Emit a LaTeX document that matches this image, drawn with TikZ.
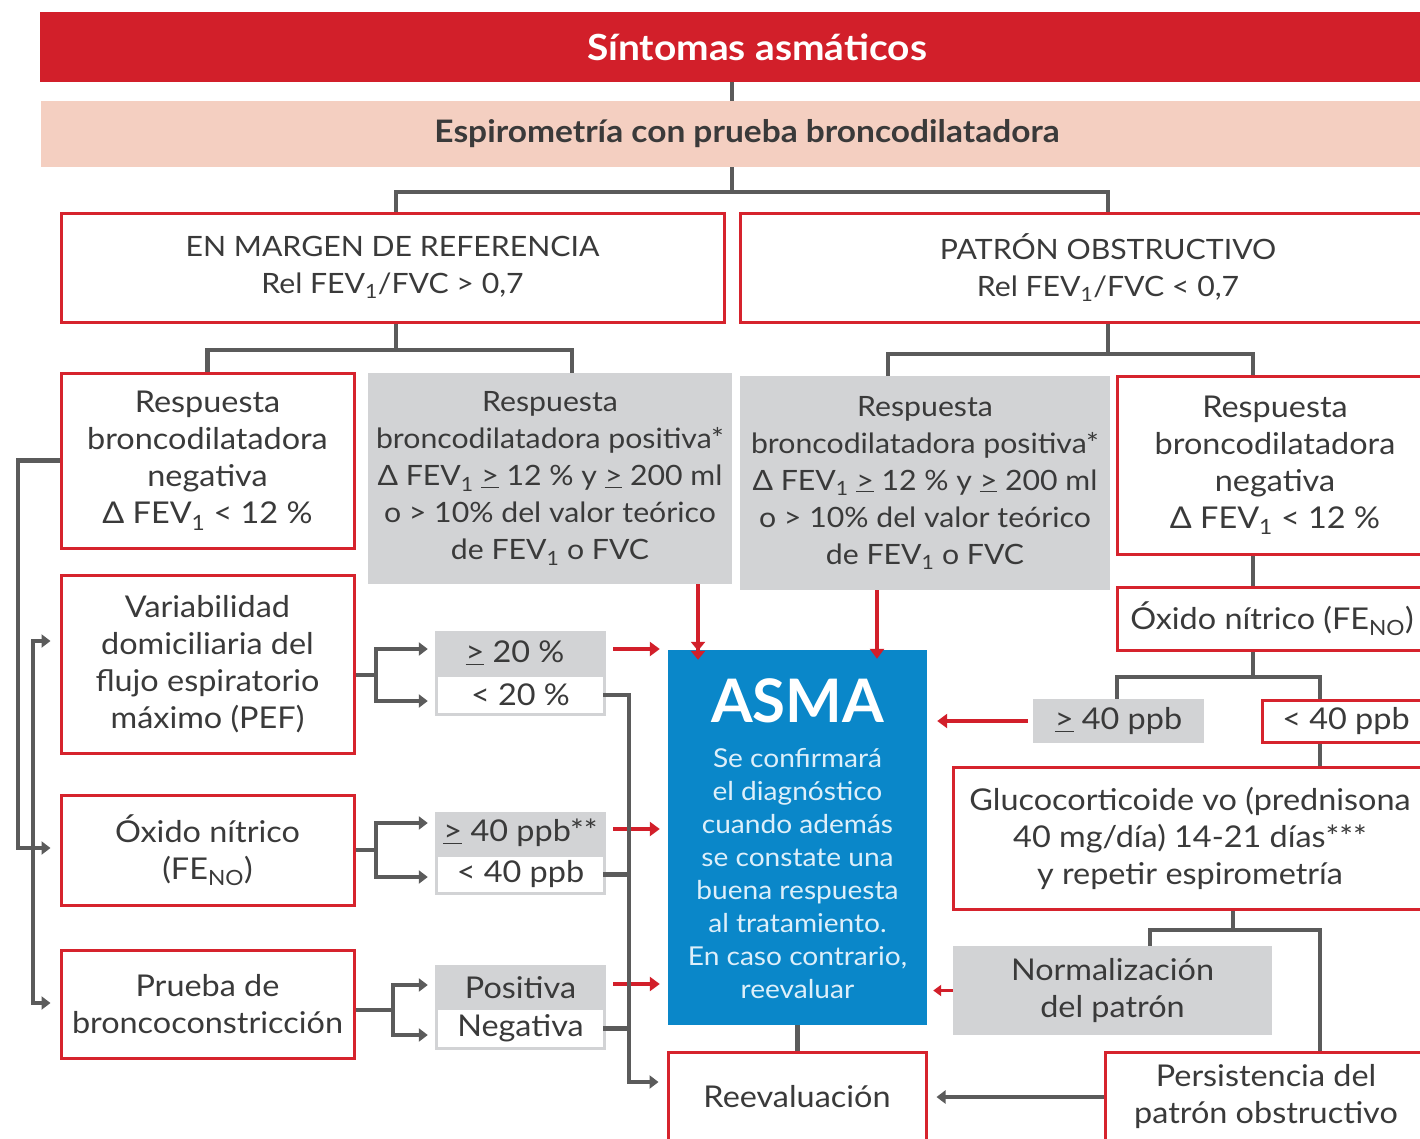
\documentclass[tikz,border=0pt]{standalone}
\usepackage{fontspec}
\setmainfont{Lato}[FakeStretch=1.08]
\newfontfamily\plainlato{Lato}
\usetikzlibrary{arrows.meta}
\definecolor{hred}{HTML}{D21F2A}
\definecolor{bred}{HTML}{D6232D}
\definecolor{salmon}{HTML}{F4CFC1}
\definecolor{gfill}{HTML}{D2D3D5}
\definecolor{lgray}{HTML}{5B5B5B}
\definecolor{ablue}{HTML}{0A87C9}
\definecolor{ink}{HTML}{3A3A3A}
\definecolor{lightt}{HTML}{DDEFFA}
\newcommand{\gequ}{\underline{>}}
\begin{document}
\begin{tikzpicture}[x=1pt,y=-1pt,
  txt/.style={font=\fontsize{30}{37}\selectfont, text=ink, align=center, inner sep=0pt},
  redbox/.style={txt, draw=bred, line width=3pt, fill=white},
  graybox/.style={txt, fill=gfill},
  whitebox/.style={txt, fill=white},
  smaller/.style={font=\fontsize{28}{37}\selectfont},
  conn/.style={draw=lgray, line width=4.5pt},
  arrG/.style={conn, -{Triangle[length=9pt,width=13pt]}},
  arrGG/.style={conn, {Triangle[length=9pt,width=13pt]}-{Triangle[length=9pt,width=13pt]}},
  arrR/.style={draw=hred, line width=4pt, -{Triangle[length=10pt,width=14pt]}},
  arrRR/.style={draw=hred, line width=4pt, -{Triangle[length=9pt,width=14pt]Triangle[length=9pt,width=14pt]}},
]
\useasboundingbox (0,0) rectangle (1420,1138);
\clip (0,0) rectangle (1420,1138);
\fill[white] (0,0) rectangle (1420,1138);

% header boxes
\node[fill=hred, minimum width=1434pt, minimum height=70pt, inner sep=0pt,
      font=\fontsize{36}{42}\selectfont\bfseries, text=white] (hdr) at (757,47) {Síntomas asmáticos};
\node[fill=salmon, minimum width=1412pt, minimum height=66pt, inner sep=0pt,
      font=\fontsize{31}{36}\selectfont\bfseries, text=ink] (sal) at (747,134) {Espirometría con prueba broncodilatadora};

% level 1
\node[redbox, smaller, minimum width=663pt, minimum height=109pt] (margen) at (392.5,267.5)
  {EN MARGEN DE REFERENCIA\\Rel FEV\textsubscript{1}/FVC > 0,7};
\node[redbox, smaller, minimum width=736pt, minimum height=109pt] (pat) at (1108,267.5)
  {PATRÓN OBSTRUCTIVO\\Rel FEV\textsubscript{1}/FVC < 0,7};

% level 2
\node[redbox, minimum width=293pt, minimum height=175pt] (negL) at (207.5,460.5)
  {Respuesta\\broncodilatadora\\negativa\\Δ FEV\textsubscript{1} < 12 \%};
\node[graybox, smaller, minimum width=364pt, minimum height=211pt] (posL) at (550,478.5)
  {Respuesta\\broncodilatadora positiva*\\Δ FEV\textsubscript{1} \gequ{} 12 \% y \gequ{} 200 ml\\o > 10\% del valor teórico\\de FEV\textsubscript{1} o FVC};
\node[graybox, smaller, minimum width=370pt, minimum height=214pt] (posR) at (925,483)
  {Respuesta\\broncodilatadora positiva*\\Δ FEV\textsubscript{1} \gequ{} 12 \% y \gequ{} 200 ml\\o > 10\% del valor teórico\\de FEV\textsubscript{1} o FVC};
\node[redbox, minimum width=316pt, minimum height=178pt] (negR) at (1275,465)
  {Respuesta\\broncodilatadora\\negativa\\Δ FEV\textsubscript{1} < 12 \%};

% left column
\node[redbox, minimum width=293pt, minimum height=178pt] (var) at (207.5,664)
  {Variabilidad\\domiciliaria del\\flujo espiratorio\\máximo (PEF)};
\node[redbox, minimum width=293pt, minimum height=110pt] (oxL) at (207.5,850)
  {Óxido nítrico\\(FE\textsubscript{NO})};
\node[redbox, minimum width=293pt, minimum height=108pt] (prueba) at (207.5,1004)
  {Prueba de\\broncoconstricción};

% small result boxes
\node[graybox, minimum width=171pt, minimum height=85pt] (g1) at (520.5,673.5) {};
\node[txt] (t1) at (515,653) {\gequ{} 20 \%};
\node[whitebox, minimum width=165pt, minimum height=36pt] (w1) at (520.5,695) {< 20 \%};
\node[graybox, minimum width=171pt, minimum height=83pt] (g2) at (520.5,853.5) {};
\node[txt] (t2) at (520.5,833) {\gequ{} 40 ppb**};
\node[whitebox, minimum width=165pt, minimum height=35pt] (w2) at (520.5,874.5) {< 40 ppb};
\node[graybox, minimum width=171pt, minimum height=85pt] (g3) at (520.5,1007.5) {};
\node[txt] (t3) at (520.5,988) {Positiva};
\node[whitebox, minimum width=165pt, minimum height=37pt] (w3) at (520.5,1028.5) {Negativa};

% ASMA
\node[fill=ablue, minimum width=259pt, minimum height=375pt, inner sep=0pt] (asma) at (797.5,837.5) {};
\node[font=\plainlato\fontsize{60}{66}\selectfont\bfseries, text=white, inner sep=0pt] (asmaT) at (797.5,701) {ASMA};
\node[font=\fontsize{26}{33}\selectfont, text=lightt, align=center, inner sep=0pt] (asmaB) at (797.5,873.5)
  {Se confirmará\\el diagnóstico\\cuando además\\se constate una\\buena respuesta\\al tratamiento.\\En caso contrario,\\reevaluar};
\node[redbox, minimum width=258pt, minimum height=90pt] (reev) at (797,1097) {Reevaluación};

% right column
\node[redbox, minimum width=310pt, minimum height=63pt] (oxR) at (1272,618.5) {Óxido nítrico (FE\textsubscript{NO})};
\node[graybox, minimum width=171pt, minimum height=44pt] (geR) at (1118.5,721) {\gequ{} 40 ppb};
\node[redbox, minimum width=168pt, minimum height=42pt] (ltR) at (1346,721) {< 40 ppb};
\node[redbox, minimum width=474pt, minimum height=142pt] (gluco) at (1190,838)
  {Glucocorticoide vo (prednisona\\40 mg/día) 14-21 días***\\y repetir espirometría};
\node[graybox, minimum width=319pt, minimum height=89pt] (norm) at (1112.5,990.5) {Normalización\\del patrón};
\node[redbox, minimum width=322pt, minimum height=90pt] (pers) at (1266,1097) {Persistencia del\\patrón obstructivo};

% connectors top
\draw[conn] (hdr.south -| 732,0) -- (sal.north -| 732,0);
\draw[conn] (sal.south -| 732,0) -- (732,192);
\draw[conn] (margen.north -| 396,0) -- (396,192) -- (1108,192) -- (pat.north);
\draw[conn] (margen.south -| 396,0) -- (396,350);
\draw[conn] (negL.north) -- (207.5,350) -- (572,350) -- (posL.north -| 572,0);
\draw[conn] (pat.south) -- (1108,354);
\draw[conn] (posR.north -| 888,0) -- (888,354) -- (1253,354) -- (negR.north -| 1253,0);

% left loops
\draw[arrG] (negL.west) -- (18,460.5) -- (18,848) -- ([xshift=-9pt]oxL.west |- 0,848);
\draw[arrGG] ([xshift=-9pt]var.west |- 0,641) -- (33,641) -- (33,1003) -- ([xshift=-9pt]prueba.west |- 0,1003);

% brackets
\draw[conn] (var.east |- 0,675) -- (376,675);
\draw[arrG] (376,675) |- ([xshift=-7pt]g1.west |- 0,649);
\draw[arrG] (376,675) |- ([xshift=-7pt]g1.west |- 0,701);
\draw[conn] (oxL.east) -- (376,850);
\draw[arrG] (376,850) |- ([xshift=-7pt]g2.west |- 0,823);
\draw[arrG] (376,850) |- ([xshift=-7pt]g2.west |- 0,877);
\draw[conn] (prueba.east |- 0,1010) -- (393,1010);
\draw[arrG] (393,1010) |- ([xshift=-7pt]g3.west |- 0,985);
\draw[arrG] (393,1010) |- ([xshift=-7pt]g3.west |- 0,1035);

% red arrows to ASMA
\draw[arrR] ([xshift=7pt]g1.east |- 0,649) -- ([xshift=-8pt]asma.west |- 0,649);
\draw[arrR] ([xshift=7pt]g2.east |- 0,829) -- ([xshift=-8pt]asma.west |- 0,829);
\draw[arrR] ([xshift=7pt]g3.east |- 0,984) -- ([xshift=-8pt]asma.west |- 0,984);
\draw[arrRR] (posL.south -| 698,0) -- ([yshift=-10pt]asma.north -| 698,0);
\draw[arrR] (posR.south -| 877,0) -- ([yshift=-9pt]asma.north -| 877,0);

% gray collector to Reevaluación
\draw[arrG] (w1.east) -- (629,695) -- (629,1082) -- ([xshift=-8pt]reev.west |- 0,1082);
\draw[conn] (w2.east) -- (629,874.5);
\draw[conn] (w3.east) -- (629,1028.5);
\draw[conn] (asma.south) -- (reev.north -| asma.south);

% right side
\draw[conn] (negR.south -| 1253,0) -- (oxR.north -| 1253,0);
\draw[conn] (oxR.south -| 1253,0) -- (1253,677);
\draw[conn] (geR.north -| 1117,0) -- (1117,677) -- (1320,677) -- (ltR.north -| 1320,0);
\draw[conn] (ltR.south -| 1320,0) -- (gluco.north -| 1320,0);
\draw[arrR] ([xshift=-5pt]geR.west) -- ([xshift=10pt]asma.east |- geR.west);
\draw[conn] (gluco.south -| 1233,0) -- (1233,930);
\draw[conn] (norm.north -| 1150,0) -- (1150,930) -- (1320,930) -- (pers.north -| 1320,0);
\draw[draw=hred, line width=3.5pt, -{Triangle[length=8pt,width=11pt]}] (norm.west) -- ([xshift=6pt]asma.east |- norm.west);
\draw[arrG] (pers.west) -- ([xshift=9pt]reev.east |- pers.west);
\end{tikzpicture}
\end{document}
